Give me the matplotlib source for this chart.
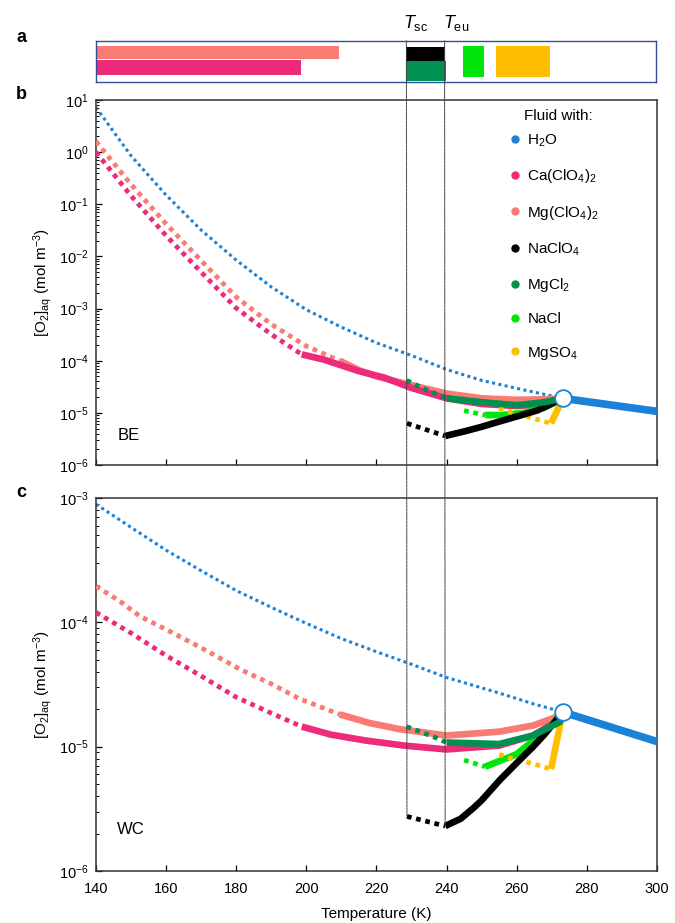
import matplotlib.pyplot as plt
from matplotlib.lines import Line2D
from matplotlib.patches import ConnectionPatch

plt.rcParams['font.family'] = ['Liberation Sans', 'DejaVu Sans']
plt.rcParams['mathtext.fontset'] = 'custom'
plt.rcParams['mathtext.rm'] = 'Liberation Sans'
plt.rcParams['mathtext.it'] = 'Liberation Sans:italic'
plt.rcParams['mathtext.bf'] = 'Liberation Sans:bold'
plt.rcParams['font.size'] = 10.5

T_SC = 228.7
T_EU = 239.6
T_MELT = 273.15

fluids = ['H$_2$O', 'Ca(ClO$_4$)$_2$', 'Mg(ClO$_4$)$_2$', 'NaClO$_4$',
          'MgCl$_2$', 'NaCl', 'MgSO$_4$']
colors = ['#1a82d8', '#ee2a7b', '#fa7a74', '#000000', '#00904f', '#00e60a', '#ffbf00']

# panel a: temperature ranges (K) of the metastable parts
bar_start = [140, 140, 228.7, 228.5, 244.9, 254.4]
bar_end = [209.5, 198.7, 239.6, 240.0, 250.8, 269.8]

# ---- BE (panel b), O2 in mol m^-3 ----
be_h2o_T = [140, 150, 160, 170, 180, 190, 200, 210, 220, 230, 240, 250, 260, 273.15]
be_h2o = [7.2, 0.85, 0.15, 3.2e-2, 8.5e-3, 2.6e-3, 9.5e-4, 4.4e-4, 2.2e-4, 1.26e-4,
          6.8e-5, 4.2e-5, 2.95e-5, 1.9e-5]
be_liq_T = [273.15, 300]
be_liq = [1.9e-5, 1.07e-5]

be_mgclo4_sc_T = [140, 150, 160, 170, 180, 190, 200, 209.5]
be_mgclo4_sc = [1.6, 0.24, 4.2e-2, 8.3e-3, 1.66e-3, 5.0e-4, 1.9e-4, 1.0e-4]
be_mgclo4_T = [209.5, 215, 220, 230, 240, 250, 260, 268, 273.15]
be_mgclo4 = [1.0e-4, 6.6e-5, 5.0e-5, 3.4e-5, 2.35e-5, 1.9e-5, 1.78e-5, 1.82e-5, 1.9e-5]

be_caclo4_sc_T = [140, 150, 160, 170, 180, 190, 198.7]
be_caclo4_sc = [1.0, 0.145, 2.5e-2, 5.0e-3, 1.02e-3, 3.2e-4, 1.32e-4]
be_caclo4_T = [198.7, 205, 215, 222, 230, 240, 250, 260, 268, 273.15]
be_caclo4 = [1.32e-4, 1.05e-4, 6.3e-5, 4.8e-5, 3.0e-5, 1.9e-5, 1.48e-5, 1.35e-5,
             1.48e-5, 1.9e-5]

be_naclo4_sc_T = [228.7, 239.6]
be_naclo4_sc = [6.3e-6, 3.6e-6]
be_naclo4_T = [239.6, 245, 250, 255, 260, 266, 273.15]
be_naclo4 = [3.6e-6, 4.4e-6, 5.4e-6, 6.8e-6, 8.5e-6, 1.12e-5, 1.9e-5]

be_mgcl2_sc_T = [228.6, 233, 240]
be_mgcl2_sc = [4.2e-5, 3.0e-5, 1.9e-5]
be_mgcl2_T = [240, 250, 260, 268, 273.15]
be_mgcl2 = [1.9e-5, 1.6e-5, 1.4e-5, 1.6e-5, 1.9e-5]

be_nacl_sc_T = [245, 251]
be_nacl_sc = [1.1e-5, 9.1e-6]
be_nacl_T = [251, 256, 262, 268, 273.15]
be_nacl = [9.1e-6, 9.1e-6, 1.0e-5, 1.26e-5, 1.9e-5]

be_mgso4_sc_T = [255, 259, 263, 266, 269.8]
be_mgso4_sc = [1.23e-5, 9.8e-6, 8.5e-6, 7.4e-6, 6.3e-6]
be_mgso4_T = [269.8, 273.15]
be_mgso4 = [6.3e-6, 1.9e-5]

# ---- WC (panel c) ----
wc_h2o_T = [140, 150, 160, 170, 180, 190, 200, 210, 220, 230, 240, 255, 265, 273.15]
wc_h2o = [8.9e-4, 5.8e-4, 3.8e-4, 2.6e-4, 1.8e-4, 1.32e-4, 9.8e-5, 7.4e-5, 5.8e-5,
          4.6e-5, 3.6e-5, 2.7e-5, 2.2e-5, 1.9e-5]
wc_liq_T = [273.15, 300]
wc_liq = [1.9e-5, 1.1e-5]

wc_mgclo4_sc_T = [140, 146.8, 152.5, 162, 171.6, 181, 190, 198, 209.5]
wc_mgclo4_sc = [1.95e-4, 1.48e-4, 1.12e-4, 8.2e-5, 5.9e-5, 4.2e-5, 3.2e-5, 2.43e-5, 1.82e-5]
wc_mgclo4_T = [209.5, 218, 226.8, 240, 255, 264.7, 271.4, 273.15]
wc_mgclo4 = [1.82e-5, 1.55e-5, 1.38e-5, 1.23e-5, 1.32e-5, 1.48e-5, 1.74e-5, 1.9e-5]

wc_caclo4_sc_T = [140, 150, 160, 170, 180, 190, 198.7]
wc_caclo4_sc = [1.2e-4, 8.2e-5, 5.4e-5, 3.7e-5, 2.5e-5, 1.86e-5, 1.45e-5]
wc_caclo4_T = [198.7, 207, 217, 228, 240, 255, 264.7, 272.3, 273.15]
wc_caclo4 = [1.45e-5, 1.25e-5, 1.12e-5, 1.02e-5, 9.5e-6, 1.02e-5, 1.23e-5, 1.66e-5, 1.9e-5]

wc_naclo4_sc_T = [228.7, 239.6]
wc_naclo4_sc = [2.75e-6, 2.3e-6]
wc_naclo4_T = [239.6, 244, 247.6, 250, 255.2, 260, 264.7, 268, 273.15]
wc_naclo4 = [2.3e-6, 2.63e-6, 3.2e-6, 3.7e-6, 5.4e-6, 7.4e-6, 1.0e-5, 1.26e-5, 1.9e-5]

wc_mgcl2_sc_T = [228.6, 236.3, 240]
wc_mgcl2_sc = [1.45e-5, 1.2e-5, 1.08e-5]
wc_mgcl2_T = [240, 255, 264.7, 272.3, 273.15]
wc_mgcl2 = [1.08e-5, 1.05e-5, 1.23e-5, 1.58e-5, 1.9e-5]

wc_nacl_sc_T = [245, 251]
wc_nacl_sc = [7.8e-6, 6.9e-6]
wc_nacl_T = [251, 260, 264.7, 270, 273.15]
wc_nacl = [6.9e-6, 8.7e-6, 1.12e-5, 1.5e-5, 1.9e-5]

wc_mgso4_sc_T = [255, 258, 263.8, 269.8]
wc_mgso4_sc = [8.7e-6, 8.1e-6, 7.4e-6, 6.6e-6]
wc_mgso4_T = [269.8, 273.15]
wc_mgso4 = [6.6e-6, 1.9e-5]

be_curves = [
    (2, be_mgclo4_sc_T, be_mgclo4_sc, be_mgclo4_T, be_mgclo4),
    (1, be_caclo4_sc_T, be_caclo4_sc, be_caclo4_T, be_caclo4),
    (5, be_nacl_sc_T, be_nacl_sc, be_nacl_T, be_nacl),
    (6, be_mgso4_sc_T, be_mgso4_sc, be_mgso4_T, be_mgso4),
    (3, be_naclo4_sc_T, be_naclo4_sc, be_naclo4_T, be_naclo4),
    (4, be_mgcl2_sc_T, be_mgcl2_sc, be_mgcl2_T, be_mgcl2),
]
wc_curves = [
    (2, wc_mgclo4_sc_T, wc_mgclo4_sc, wc_mgclo4_T, wc_mgclo4),
    (1, wc_caclo4_sc_T, wc_caclo4_sc, wc_caclo4_T, wc_caclo4),
    (5, wc_nacl_sc_T, wc_nacl_sc, wc_nacl_T, wc_nacl),
    (6, wc_mgso4_sc_T, wc_mgso4_sc, wc_mgso4_T, wc_mgso4),
    (3, wc_naclo4_sc_T, wc_naclo4_sc, wc_naclo4_T, wc_naclo4),
    (4, wc_mgcl2_sc_T, wc_mgcl2_sc, wc_mgcl2_T, wc_mgcl2),
]

fig = plt.figure(figsize=(6.75, 9.23), dpi=100)
ax_a = fig.add_axes([0.1422, 0.9112, 0.8296, 0.0444])
ax_b = fig.add_axes([0.1422, 0.4962, 0.8310, 0.3955])
ax_c = fig.add_axes([0.1422, 0.0563, 0.8310, 0.4042])

# panel a
bar_rows = [(0.718, 0.306, 2), (0.355, 0.355, 1), (0.686, 0.339, 3),
            (0.266, 0.500, 4), (0.496, 0.750, 5), (0.496, 0.750, 6)]
for (yc, h, k), s, e in zip(bar_rows, bar_start, bar_end):
    ax_a.barh(yc, e - s, left=s, height=h, color=colors[k], lw=0)
ax_a.set_xlim(140, 300)
ax_a.set_ylim(0, 1)
ax_a.set_xticks([])
ax_a.set_yticks([])
for sp in ax_a.spines.values():
    sp.set_color('#2f4f98')
    sp.set_linewidth(1.0)
tr = ax_a.get_xaxis_transform()
ax_a.text(T_SC + 2.5, 1.2, '$T_{\\mathrm{sc}}$', transform=tr, ha='center', va='bottom', fontsize=13)
ax_a.text(T_EU + 3.2, 1.2, '$T_{\\mathrm{eu}}$', transform=tr, ha='center', va='bottom', fontsize=13)


def draw_panel(ax, h2o_T, h2o, liq_T, liq, curves):
    ax.plot(h2o_T, h2o, color=colors[0], lw=2.2, ls=(0, (1, 1.1)), zorder=2)
    for z, (k, sT, sv, T, v) in enumerate(curves):
        ax.plot(sT, sv, color=colors[k], lw=3.4, ls=(0, (1, 1.0)), zorder=3 + z)
        ax.plot(T, v, color=colors[k], lw=4.8, solid_capstyle='butt', zorder=3 + z)
    ax.plot(liq_T, liq, color=colors[0], lw=5.5, solid_capstyle='butt', zorder=12)
    ax.plot([liq_T[0]], [liq[0]], 'o', ms=12, mfc='white', mec=colors[0], mew=1.3, zorder=13)
    ax.set_yscale('log')
    ax.set_xlim(140, 300)
    ax.tick_params(which='both', direction='in', top=False, right=False)
    ax.tick_params(which='major', length=4.5, width=0.9)
    ax.tick_params(which='minor', length=2.5, width=0.7)
    ax.tick_params(axis='x', pad=8)
    ax.tick_params(axis='y', pad=5)
    for sp in ax.spines.values():
        sp.set_color('#333333')
        sp.set_linewidth(1.1)
    ax.set_ylabel('[O$_2$]$_{\\mathrm{aq}}$ (mol m$^{-3}$)', fontsize=11)


draw_panel(ax_b, be_h2o_T, be_h2o, be_liq_T, be_liq, be_curves)
ax_b.set_ylim(1e-6, 1e1)
ax_b.set_xticklabels([])
ax_b.text(0.038, 0.082, 'BE', transform=ax_b.transAxes, fontsize=12, va='center')

draw_panel(ax_c, wc_h2o_T, wc_h2o, wc_liq_T, wc_liq, wc_curves)
ax_c.set_ylim(1e-6, 1e-3)
ax_c.set_xticks(range(140, 301, 20))
ax_c.set_xlabel('Temperature (K)', fontsize=11, labelpad=8)
ax_c.text(0.038, 0.11, 'WC', transform=ax_c.transAxes, fontsize=12, va='center')

handles = [Line2D([], [], ls='none', marker='o', ms=5, color=c) for c in colors]
ax_b.legend(handles, fluids, loc='upper left', bbox_to_anchor=(0.728, 0.927),
            frameon=False, fontsize=11,
            handlelength=0.6, handletextpad=0.5, labelspacing=1.2, borderaxespad=0)
ax_b.text(0.825, 0.955, 'Fluid with:', transform=ax_b.transAxes, ha='center', va='center',
          fontsize=11)

# dotted guides at T_sc and T_eu, from panel a down to the NaClO4 curve in panel c
for T, v in [(T_SC, wc_naclo4_sc[0]), (T_EU, wc_naclo4_sc[1])]:
    con = ConnectionPatch(xyA=(T, 1.0), coordsA=tr, xyB=(T, v), coordsB='data',
                          axesB=ax_c, color='#444444', lw=0.8, ls=(0, (1, 1)))
    fig.add_artist(con)

for lab, y in [('a', 0.959), ('b', 0.898), ('c', 0.466)]:
    fig.text(0.024, y, lab, fontsize=13, fontweight='bold', va='center')

fig.savefig('out.png', dpi=100)
